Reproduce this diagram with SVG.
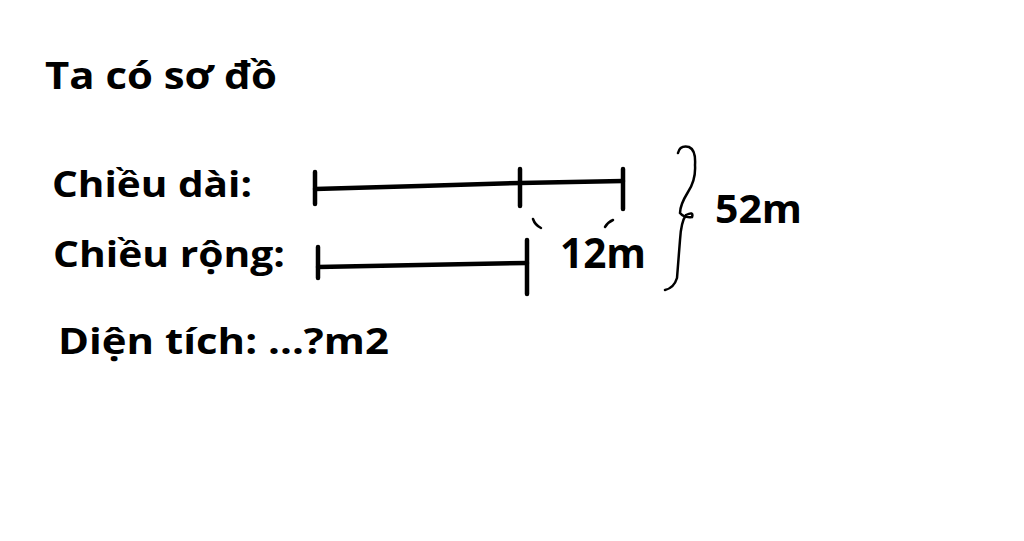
<svg xmlns="http://www.w3.org/2000/svg" width="1024" height="541" viewBox="0 0 1024 541">
<style>
.t{font-family:"Open Sans","Noto Sans","Liberation Sans",sans-serif;font-weight:bold;fill:#000}
.s{stroke:#000;stroke-width:4.5;stroke-linecap:round;fill:none}
.b{stroke:#000;stroke-width:2.5;stroke-linecap:round;fill:none}
</style>
<rect width="1024" height="541" fill="#fff"/>
<g id="title"><text class="t" x="45" y="89" font-size="37" textLength="232" lengthAdjust="spacingAndGlyphs">Ta có sơ đồ</text></g>
<g id="label-dai"><text class="t" x="52" y="197" font-size="36" textLength="200" lengthAdjust="spacingAndGlyphs">Chiều dài:</text></g>
<g id="label-rong"><text class="t" x="53" y="267" font-size="36" textLength="232" lengthAdjust="spacingAndGlyphs">Chiều rộng:</text></g>
<g id="label-dientich"><text class="t" x="58" y="354" font-size="36" textLength="331" lengthAdjust="spacingAndGlyphs">Diện tích: ...?m2</text></g>
<g id="bar-dai">
<path class="s" d="M315,172 L315,204"/>
<path class="s" d="M315,189 L420,186 L520,183 L623,181"/>
<path class="s" d="M520,169 L520,206"/>
<path class="s" d="M623,169 L623,209"/>
</g>
<g id="bar-rong">
<path class="s" d="M318,247 L318,278"/>
<path class="s" d="M318,267 L420,265 L527,263"/>
<path class="s" d="M527,240 L527,294"/>
</g>
<g id="mark-12m">
<path class="b" d="M533,219 Q535,225 541,228"/>
<path class="b" d="M605,227 Q608,222 613,220"/>
<text class="t" x="560" y="268" font-size="41" textLength="86" lengthAdjust="spacingAndGlyphs">12m</text>
</g>
<g id="brace-52m">
<path class="b" d="M678,153 Q680,145 689,147 Q696,150 695,165 Q696,180 688,192 Q680,205 680,213 Q684,218 692,217 Q694,211 686,215 Q681,222 680,240 Q678,265 677,278 Q674,288 665,290"/>
<text class="t" x="715" y="223" font-size="39" textLength="87" lengthAdjust="spacingAndGlyphs">52m</text>
</g>
</svg>
